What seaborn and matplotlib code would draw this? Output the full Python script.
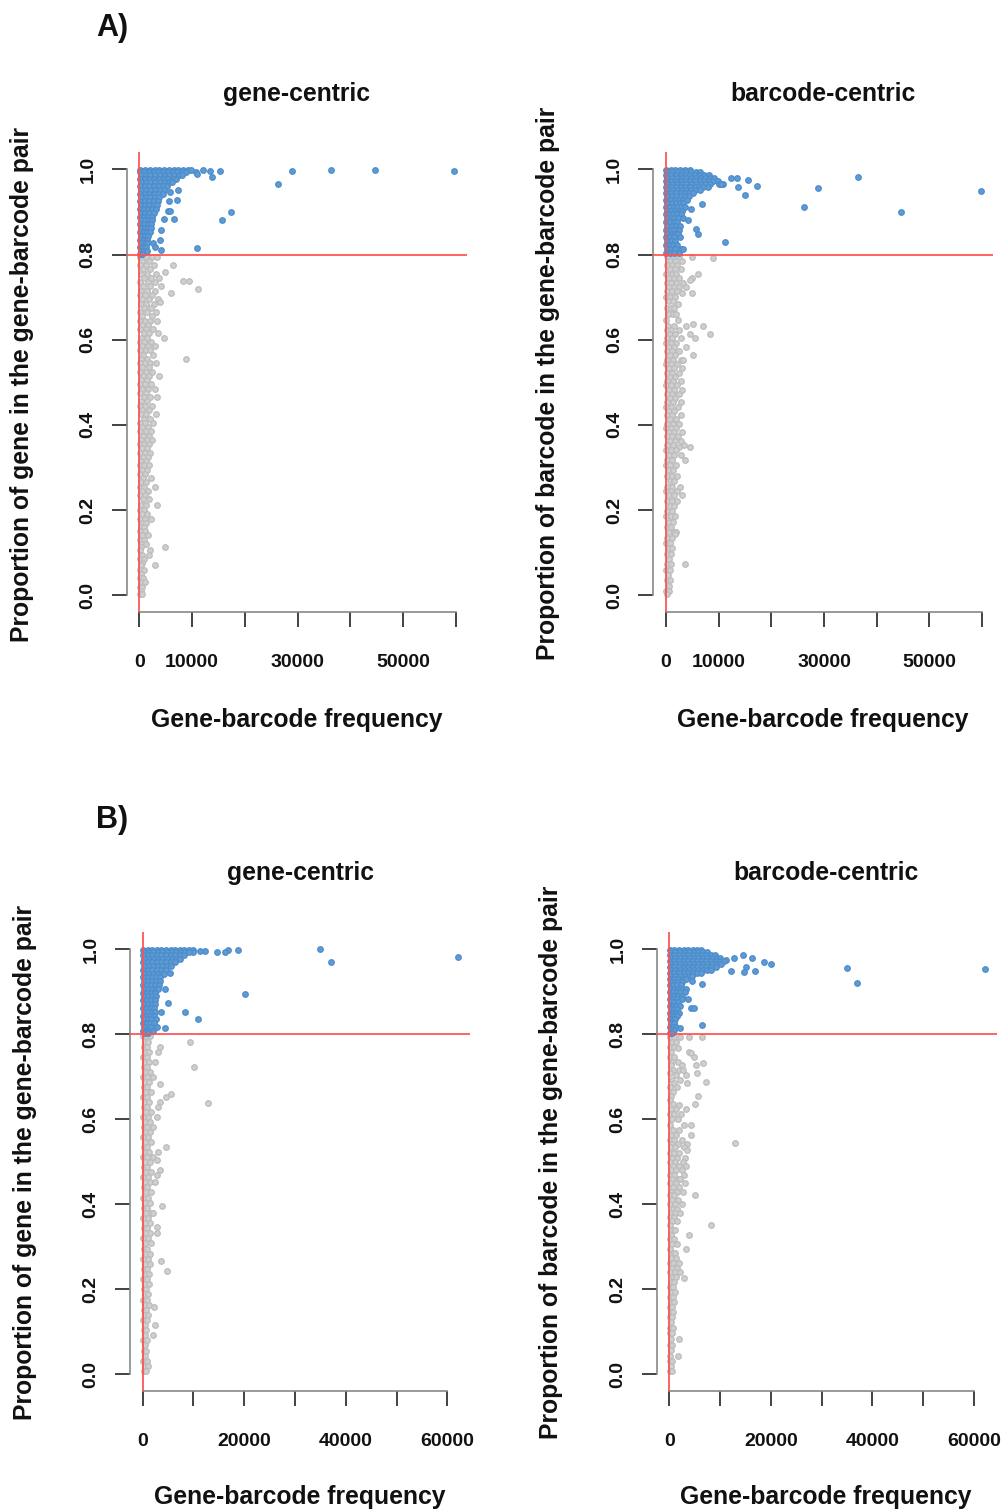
import numpy as np
import pandas as pd
import matplotlib
matplotlib.use("Agg")
import matplotlib.pyplot as plt
import seaborn as sns

# ---------------------------------------------------------------- data
# each row: (proportion, [gene-barcode frequencies at that proportion])
A_GENE_BLUE = [
    (0.999, [200, 1100, 2000, 2900, 3800, 4700, 5600, 6500, 7400, 8300, 9200, 9800, 12100]),
    (0.998, [36400, 44600]),
    (0.996, [13400, 28900]),
    (0.995, [15300, 59700]),
    (0.994, [10700]),
    (0.993, [100, 900, 1800, 2700, 3600, 4500, 5400, 6300, 7200, 8100, 8900]),
    (0.990, [11000]),
    (0.986, [300, 1200, 2100, 3000, 3900, 4800, 5700, 6600, 7500, 8000]),
    (0.982, [13700]),
    (0.978, [100, 1000, 1900, 2800, 3700, 4600, 5500, 6300, 7000]),
    (0.970, [300, 1200, 2100, 3000, 3900, 4800, 5600, 6200]),
    (0.965, [26200]),
    (0.961, [100, 1000, 1900, 2800, 3700, 4500, 5300]),
    (0.952, [300, 1200, 2100, 3000, 3900, 4700, 7400]),
    (0.947, [5800]),
    (0.943, [100, 1000, 1900, 2800, 3600, 4400]),
    (0.934, [300, 1200, 2100, 2900, 3700]),
    (0.929, [7100]),
    (0.925, [100, 1000, 1900, 2700, 3500, 5600]),
    (0.916, [300, 1100, 1900, 2700, 3300]),
    (0.907, [100, 900, 1700, 2500, 3100]),
    (0.903, [5500, 5900]),
    (0.900, [17300]),
    (0.898, [300, 1100, 1900, 2700]),
    (0.889, [100, 900, 1700, 2500]),
    (0.883, [6600, 4600]),
    (0.881, [15700]),
    (0.880, [300, 1100, 1800, 2400]),
    (0.871, [100, 900, 1600, 2300]),
    (0.862, [300, 1000, 1700, 2200]),
    (0.857, [4200]),
    (0.853, [100, 800, 1500, 2100]),
    (0.844, [300, 1000, 1700]),
    (0.835, [100, 800, 1500, 4000]),
    (0.826, [300, 1000, 1500, 2600]),
    (0.817, [100, 700, 1300, 3000]),
    (0.816, [10900]),
    (0.810, [4100]),
    (0.808, [300, 900, 1400]),
    (0.802, [100, 600]),
]

A_GENE_GRAY = [
    (0.795, [200, 1200, 2400, 3300]), (0.785, [500, 1800]),
    (0.775, [100, 1300, 2700, 6400]), (0.765, [700, 2000]), (0.759, [4900]),
    (0.755, [300, 1500, 3100]), (0.745, [900, 2300, 3800]), (0.738, [8300, 9500]),
    (0.735, [200, 1600, 2900]), (0.725, [700, 2100, 4200]), (0.718, [11200]),
    (0.715, [400, 1400, 3000]), (0.710, [6100]), (0.705, [100, 1000, 2500]),
    (0.695, [600, 1900, 3500]), (0.689, [4000]), (0.685, [300, 1300, 2800]),
    (0.675, [800, 2200]), (0.665, [200, 1500, 3100]), (0.655, [600, 2400]),
    (0.645, [100, 1100, 2000, 3300]), (0.635, [500, 1700]), (0.625, [200, 1300, 2600]),
    (0.615, [800, 1900, 3600]), (0.605, [300, 1400, 4700]), (0.595, [100, 900, 2300]),
    (0.585, [600, 1700, 3000]), (0.575, [200, 1200, 2100]), (0.565, [700, 2600]),
    (0.555, [300, 1500, 8800]), (0.545, [100, 1000, 2000, 3200]), (0.535, [500, 1800]),
    (0.525, [200, 1200, 2500]), (0.514, [700, 1900, 3800]), (0.505, [300, 1400]),
    (0.495, [100, 1000, 2200]), (0.485, [600, 1700, 2900]), (0.475, [200, 1300]),
    (0.465, [800, 2100, 3300]), (0.455, [400, 1500]), (0.445, [100, 1000, 2400]),
    (0.435, [600, 1800]), (0.425, [300, 1300, 3100]), (0.415, [800, 2000]),
    (0.405, [100, 1100, 2600]), (0.395, [500, 1600]), (0.385, [200, 1200, 2200]),
    (0.375, [700, 1800]), (0.365, [300, 1400, 2500]), (0.355, [100, 900, 1900]),
    (0.345, [500, 1500]), (0.335, [200, 1100, 2100]), (0.325, [700, 1700]),
    (0.315, [300, 1300]), (0.305, [100, 900, 1900]), (0.295, [500, 1500]),
    (0.285, [200, 1100]), (0.276, [700, 2300]), (0.265, [300, 1300]),
    (0.254, [100, 900, 3000]), (0.245, [500, 1600]), (0.235, [200, 1100]),
    (0.225, [700, 1800]), (0.211, [300, 1200, 3400]), (0.200, [100, 800]),
    (0.190, [500, 1500]), (0.180, [200, 1000, 2300]), (0.170, [600, 1300]),
    (0.160, [300, 900]), (0.150, [100, 1100]), (0.141, [500, 1700]),
    (0.130, [200, 900]), (0.120, [600, 1200]), (0.113, [300, 4900]),
    (0.106, [100, 2000]), (0.095, [500, 1900]), (0.085, [200, 900]),
    (0.075, [600]), (0.070, [300, 3000]), (0.060, [100, 800]), (0.050, [400]),
    (0.040, [200, 700]), (0.030, [500, 1000]), (0.020, [100, 600]),
    (0.010, [300]), (0.003, [100, 500]),
]

A_BARCODE_BLUE = [
    (0.999, [100, 900, 1800, 2700, 3600, 4500]),
    (0.993, [300, 1200, 2100, 3000, 3900, 4800, 5700, 6400]),
    (0.986, [100, 1000, 1900, 2800, 3700, 4600, 5500, 6400, 7300, 8200]),
    (0.983, [36400]),
    (0.980, [12300]),
    (0.979, [300, 1200, 2100, 3000, 3900, 4800, 5700, 6600, 7500, 8400, 9200, 13400]),
    (0.976, [15600]),
    (0.972, [100, 1000, 1900, 2800, 3700, 4600, 5500, 6400, 7300, 8100, 9000, 9800]),
    (0.965, [300, 1200, 2100, 3000, 3900, 4800, 5700, 6600, 7400, 8300, 10000, 10800, 10400]),
    (0.962, [17300]),
    (0.958, [100, 1000, 1900, 2800, 3700, 4600, 5500, 6300, 7100, 8000, 13700]),
    (0.956, [28800]),
    (0.951, [300, 1200, 2100, 3000, 3900, 4800, 5600, 6400]),
    (0.949, [59700]),
    (0.944, [100, 1000, 1900, 2800, 3600, 4400, 5200]),
    (0.940, [15000]),
    (0.937, [300, 1200, 2000, 2800, 3600, 4400]),
    (0.929, [100, 900, 1700, 2500, 3300, 4100]),
    (0.921, [300, 1100, 1900, 2600, 3300]),
    (0.918, [6900]),
    (0.912, [100, 800, 1500, 2200, 2900, 3600, 26200]),
    (0.906, [4800]),
    (0.903, [300, 1000, 1700, 2400, 3100]),
    (0.900, [44600]),
    (0.894, [100, 700, 1400, 2100, 2800]),
    (0.885, [300, 1000, 1600, 2300, 3300]),
    (0.881, [4200]),
    (0.876, [100, 800, 1500, 2200]),
    (0.867, [300, 1200, 1900, 2600]),
    (0.861, [5800]),
    (0.858, [100, 900, 1600, 2500]),
    (0.849, [300, 1100, 1800, 2300]),
    (0.848, [6100]),
    (0.840, [100, 800, 1500, 2600]),
    (0.831, [300, 1000, 1700]),
    (0.830, [11200]),
    (0.822, [100, 700, 1400, 2200]),
    (0.813, [300, 1000, 1700, 2800, 3300]),
    (0.804, [100, 800, 1500, 2400]),
]

A_BARCODE_GRAY = [
    (0.797, [200, 1300, 2400]), (0.794, [5000]), (0.791, [9000]),
    (0.785, [700, 1800, 3000]), (0.775, [300, 1200, 2200]), (0.765, [800, 1700, 2800]),
    (0.754, [100, 1100, 2000, 6000]), (0.744, [500, 1500, 2500, 4900]), (0.740, [4500]),
    (0.734, [200, 1000, 1900, 3200]), (0.724, [600, 1500, 2400, 3900]),
    (0.714, [300, 1100, 2100]), (0.710, [3000, 4900]), (0.700, [100, 800, 1700]),
    (0.690, [500, 1400]), (0.683, [2300]), (0.675, [200, 1000, 1600]),
    (0.660, [600, 1300, 2000]), (0.646, [100, 2300]), (0.638, [5200]),
    (0.632, [400, 1500, 3900, 7100]), (0.622, [200, 1000, 2400]),
    (0.613, [700, 1700, 4500, 8300]), (0.603, [300, 1200, 2800, 5500]),
    (0.593, [100, 900, 2000]), (0.583, [500, 1500, 3900]), (0.573, [200, 1100, 2400]),
    (0.563, [700, 1700, 5200]), (0.553, [300, 1300, 2900, 3300]), (0.543, [100, 900, 2100]),
    (0.533, [500, 1600, 3000]), (0.523, [200, 1100, 2400]), (0.513, [700, 1800]),
    (0.503, [300, 1300, 2800]), (0.493, [100, 900, 2200]), (0.483, [500, 1600, 3100]),
    (0.473, [200, 1200, 2500]), (0.463, [700, 1800]), (0.453, [300, 1400, 2900]),
    (0.443, [100, 1000, 2300]), (0.433, [500, 1600]), (0.423, [200, 1200, 2800]),
    (0.413, [700, 1900]), (0.403, [300, 1300, 2500]), (0.393, [100, 900, 2000]),
    (0.383, [500, 1500, 3000]), (0.373, [200, 1100, 2300]), (0.363, [700, 1800, 2900]),
    (0.353, [300, 1400, 3500]), (0.347, [2500, 4500]), (0.340, [100, 1000, 2000]),
    (0.330, [600, 1600, 2800]), (0.317, [300, 1200, 3600]), (0.305, [100, 800, 1900]),
    (0.293, [500, 1400]), (0.280, [200, 1100, 2200]), (0.268, [700, 1600]),
    (0.255, [300, 1200, 2600]), (0.245, [100, 900, 2100]), (0.235, [500, 1500, 3000]),
    (0.222, [200, 1100, 2200]), (0.210, [700, 1600]), (0.197, [300, 1200]),
    (0.185, [100, 900, 1800]), (0.172, [500, 1400]), (0.160, [200, 1000]),
    (0.148, [600, 1500, 2000]), (0.143, [1700]), (0.135, [300, 1100]),
    (0.122, [100, 800]), (0.110, [500, 1200]), (0.097, [200, 900]), (0.085, [600]),
    (0.073, [300, 1000, 3600]), (0.060, [100, 700]), (0.047, [400]),
    (0.035, [200, 800]), (0.022, [500]), (0.010, [100, 600]), (0.003, [300]),
]

B_GENE_BLUE = [
    (0.999, [100, 1000, 1900, 2800, 3700, 4600, 5500, 6400, 7300, 8200, 9100, 9900]),
    (1.000, [35000]),
    (0.998, [16800, 18800]),
    (0.997, [12300]),
    (0.996, [11300]),
    (0.994, [10000, 14600, 16200]),
    (0.993, [300, 1200, 2100, 3000, 3900, 4800, 5700, 6600, 7500, 8400, 9200]),
    (0.986, [100, 1000, 1900, 2800, 3700, 4600, 5500, 6400, 7300, 8100]),
    (0.983, [62000]),
    (0.978, [300, 1200, 2100, 3000, 3900, 4800, 5700, 6600, 7300]),
    (0.970, [100, 1000, 1900, 2800, 3700, 4600, 5500, 6300, 37000]),
    (0.961, [300, 1200, 2100, 3000, 3900, 4800, 5500]),
    (0.952, [100, 1000, 1900, 2800, 3700, 4600]),
    (0.944, [5400]),
    (0.943, [300, 1200, 2100, 3000, 3800, 4300]),
    (0.934, [100, 1000, 1900, 2700, 3500]),
    (0.925, [300, 1100, 1900, 2700, 3400]),
    (0.916, [100, 900, 1700, 2500, 3200]),
    (0.907, [300, 1100, 1900, 2700, 3000]),
    (0.906, [4400]),
    (0.898, [100, 900, 1700, 2500]),
    (0.895, [20100]),
    (0.889, [300, 1100, 1900, 2700]),
    (0.880, [100, 900, 1700, 2400]),
    (0.873, [5000]),
    (0.871, [300, 1100, 1900, 2500]),
    (0.862, [100, 900, 1700, 2300]),
    (0.853, [300, 1100, 1800, 2500, 3700, 8300]),
    (0.844, [100, 800, 1500, 2200]),
    (0.835, [300, 1000, 1700, 2600, 10900]),
    (0.826, [100, 800, 1500, 2200]),
    (0.817, [300, 1000, 1600, 2800]),
    (0.814, [4400]),
    (0.808, [100, 700, 1300, 2000]),
    (0.802, [400, 1000]),
]

B_GENE_GRAY = [
    (0.795, [100, 700, 1400]), (0.783, [400, 1100, 9400]), (0.771, [200, 900, 3400]),
    (0.759, [600, 1300, 3100]), (0.747, [100, 800]), (0.736, [400, 1200, 2400]),
    (0.724, [200, 900, 10200]), (0.712, [600, 1500]), (0.700, [100, 800, 2100]),
    (0.688, [400, 1200]), (0.682, [3400]), (0.676, [200, 900]), (0.664, [600, 1600]),
    (0.659, [5600]), (0.652, [100, 800, 4700]), (0.640, [400, 1300, 3400]),
    (0.638, [12900]), (0.630, [200, 900, 3100]), (0.618, [600, 1700]),
    (0.606, [100, 1000, 2900]), (0.594, [400, 1400]), (0.582, [200, 800, 2000]),
    (0.570, [600, 1500]), (0.558, [100, 1000]), (0.546, [400, 1700]),
    (0.536, [200, 800, 4600]), (0.524, [600, 1300, 3100]), (0.512, [100, 900, 2000]),
    (0.504, [2800]), (0.500, [400, 1500]), (0.488, [200, 800]), (0.481, [3400]),
    (0.476, [600, 1600]), (0.469, [2800]), (0.464, [100, 1000]),
    (0.452, [400, 1500, 2400]), (0.440, [200, 900]), (0.428, [600, 1700]),
    (0.416, [100, 1000]), (0.404, [400, 1400]), (0.396, [3900]), (0.392, [200, 800]),
    (0.380, [600, 1600, 2100]), (0.368, [100, 1000]), (0.356, [400, 1400]),
    (0.347, [2800]), (0.344, [200, 900]), (0.332, [600, 1500, 2800]),
    (0.320, [100, 1000]), (0.308, [400, 1600]), (0.296, [200, 900]),
    (0.284, [600, 1500]), (0.272, [100, 1000]), (0.267, [3700]), (0.260, [400, 1500]),
    (0.248, [200, 800]), (0.244, [4900]), (0.236, [600, 1300]), (0.224, [100, 900]),
    (0.212, [400, 1200]), (0.200, [200, 700]), (0.188, [500, 1100]),
    (0.176, [100, 800]), (0.164, [400, 1300]), (0.159, [2200]), (0.152, [200, 700]),
    (0.140, [500, 1000]), (0.128, [100, 800]), (0.116, [400, 2400]),
    (0.104, [200, 700]), (0.092, [500, 2100]), (0.080, [100, 800]), (0.068, [400]),
    (0.056, [200, 700]), (0.044, [500]), (0.032, [100, 800]), (0.020, [400, 1000]),
    (0.008, [200, 600]),
]

B_BARCODE_BLUE = [
    (0.999, [100, 1000, 1900, 2800, 3700, 4600, 5500, 6200]),
    (0.993, [300, 1200, 2100, 3000, 3900, 4800, 5700, 6600, 7400]),
    (0.987, [14600]),
    (0.986, [100, 1000, 1900, 2800, 3700, 4600, 5500, 6400, 7300, 8200, 9000]),
    (0.979, [300, 1200, 2100, 3000, 3900, 4800, 5700, 6600, 7500, 8400, 9300, 10000, 12700, 16300]),
    (0.975, [11100]),
    (0.972, [100, 1000, 1900, 2800, 3700, 4600, 5500, 6400, 7300, 8200, 9100, 10000, 10800]),
    (0.970, [18600]),
    (0.965, [300, 1200, 2100, 3000, 3900, 4800, 5700, 6600, 7500, 8400, 9300, 10200, 20100]),
    (0.959, [15000]),
    (0.958, [100, 1000, 1900, 2800, 3700, 4600, 5500, 6400, 7300, 8200, 9100]),
    (0.957, [35000]),
    (0.954, [62070]),
    (0.951, [300, 1200, 2100, 3000, 3900, 4800, 5700, 6600, 7500, 8300]),
    (0.949, [12100, 16900]),
    (0.947, [14700]),
    (0.944, [100, 1000, 1900, 2800, 3700, 4600, 5400, 6200]),
    (0.937, [300, 1200, 2100, 3000, 3800, 4500]),
    (0.930, [100, 1000, 1800, 2600, 3300]),
    (0.925, [4500]),
    (0.923, [300, 1100, 1800, 2500]),
    (0.920, [37000]),
    (0.918, [6400]),
    (0.915, [100, 800, 1500, 2300]),
    (0.907, [300, 1000, 1700, 2500, 3200]),
    (0.899, [100, 800, 1500, 2200, 3000]),
    (0.891, [300, 1000, 1700, 2500]),
    (0.883, [100, 800, 1500, 2400, 3700]),
    (0.875, [300, 1000, 1700]),
    (0.867, [100, 700, 1400, 2100]),
    (0.861, [4200, 4800]),
    (0.859, [300, 1000, 1600]),
    (0.851, [100, 700, 1300, 2000]),
    (0.843, [300, 900, 1500]),
    (0.835, [100, 700, 1200]),
    (0.827, [300, 900]),
    (0.822, [6400]),
    (0.818, [100, 700, 1300]),
    (0.814, [2200]),
    (0.810, [300, 900]),
    (0.803, [100, 600]),
]

B_BARCODE_GRAY = [
    (0.794, [200, 1000, 2200, 3900, 6500]), (0.782, [600, 1400]), (0.770, [100, 900]),
    (0.767, [1700]), (0.759, [400, 3900]), (0.755, [4200]), (0.746, [200, 1000, 4800]),
    (0.734, [600, 1700]), (0.732, [6700]), (0.728, [300, 2400, 5200]),
    (0.716, [800, 1900, 2600]), (0.708, [100, 5500]), (0.704, [1300, 3200]),
    (0.692, [500, 2200]), (0.687, [7300]), (0.685, [1000, 3500]), (0.675, [200, 1600]),
    (0.664, [700]), (0.655, [300, 5600]), (0.645, [100]), (0.636, [800, 5000]),
    (0.634, [1900]), (0.624, [400, 1400, 3200]), (0.612, [100, 900, 2300]),
    (0.600, [500, 1700]), (0.587, [200, 2900, 4200]), (0.575, [800, 1900]),
    (0.563, [300, 1400, 4200]), (0.551, [100, 900, 2500]), (0.545, [12900]),
    (0.543, [600, 1800, 3500]), (0.535, [300, 1200, 2800]), (0.528, [3400]),
    (0.520, [100, 900, 2000]), (0.510, [500, 1600, 3100]), (0.500, [200, 1200, 2600]),
    (0.490, [700, 1900, 3300]), (0.480, [300, 1400, 2400]), (0.470, [100, 1000, 2900]),
    (0.460, [600, 1700, 2200]), (0.450, [200, 1300, 3000]), (0.440, [800, 2000]),
    (0.430, [400, 1500, 2600]), (0.421, [100, 1000, 5000]), (0.410, [600, 1800]),
    (0.400, [200, 1200, 2400]), (0.390, [700, 1600]), (0.380, [300, 1100, 2200]),
    (0.370, [100, 900]), (0.360, [500, 1500]), (0.351, [200, 8300]),
    (0.340, [700, 1200]), (0.328, [300, 3900]), (0.318, [100, 900]),
    (0.306, [500, 1500]), (0.296, [200, 3200]), (0.285, [700, 1100]),
    (0.274, [300, 1400]), (0.262, [100, 800, 2000]), (0.250, [500, 1600]),
    (0.240, [200, 1100, 2100]), (0.230, [700, 1400]), (0.226, [2800]),
    (0.218, [300, 1000]), (0.206, [100, 700]), (0.194, [500, 1200]),
    (0.182, [200, 800]), (0.170, [600, 1000]), (0.158, [100, 500]),
    (0.146, [300, 800]), (0.134, [100, 600]), (0.122, [400]), (0.110, [200, 700]),
    (0.098, [100, 500]), (0.082, [300, 1900]), (0.070, [100, 600]), (0.058, [400]),
    (0.044, [200, 1800]), (0.032, [100, 600]), (0.020, [300]), (0.008, [100, 500]),
]

X_TICKS = [0, 10000, 20000, 30000, 40000, 50000, 60000]
A_X_TICKLABELS = ["0", "10000", "", "30000", "", "50000", ""]
B_X_TICKLABELS = ["0", "", "20000", "", "40000", "", "60000"]
Y_TICKS = [0.0, 0.2, 0.4, 0.6, 0.8, 1.0]
Y_TICKLABELS = ["0.0", "0.2", "0.4", "0.6", "0.8", "1.0"]
THRESHOLD = 0.8

TITLES = ["gene-centric", "barcode-centric"]
XLABEL = "Gene-barcode frequency"
YLABELS = ["Proportion of gene in the gene-barcode pair",
           "Proportion of barcode in the gene-barcode pair"]


def expand(rows):
    xs, ys = [], []
    for y, xl in rows:
        for x in xl:
            xs.append(x)
            ys.append(y)
    return pd.DataFrame({"freq": xs, "prop": ys})


# ---------------------------------------------------------------- style
sns.set_style("ticks")
plt.rcParams["font.family"] = ["Liberation Sans", "DejaVu Sans"]
plt.rcParams["text.color"] = "#111111"
plt.rcParams["axes.labelcolor"] = "#111111"

W, H = 1003, 1512
fig = plt.figure(figsize=(W / 100, H / 100), dpi=100)

BLUE = "#4b8dcc"
BLUE_FACE = "#5f9ad3"
GRAY = "#bcbcbc"
GRAY_FACE = "#cfcfcf"
RED = "#ff5252"


def px_rect(left, top, right, bottom):
    return [left / W, 1 - bottom / H, (right - left) / W, (bottom - top) / H]


panels = [
    dict(blue=A_GENE_BLUE, gray=A_GENE_GRAY, rect=px_rect(126.7, 152.3, 467.0, 612.3),
         title=TITLES[0], ylabel=YLABELS[0], xticklabels=A_X_TICKLABELS,
         title_xy=(297, 94), xlabel_xy=(297, 720), ylabel_xy=(22, 384)),
    dict(blue=A_BARCODE_BLUE, gray=A_BARCODE_GRAY, rect=px_rect(653.3, 152.3, 993.1, 612.3),
         title=TITLES[1], ylabel=YLABELS[1], xticklabels=A_X_TICKLABELS,
         title_xy=(823, 94), xlabel_xy=(823, 720), ylabel_xy=(548, 383)),
    dict(blue=B_GENE_BLUE, gray=B_GENE_GRAY, rect=px_rect(130.0, 932.3, 470.2, 1391.3),
         title=TITLES[0], ylabel=YLABELS[0], xticklabels=B_X_TICKLABELS,
         title_xy=(300, 873), xlabel_xy=(300, 1497), ylabel_xy=(25, 1163)),
    dict(blue=B_BARCODE_BLUE, gray=B_BARCODE_GRAY, rect=px_rect(656.7, 932.3, 997.2, 1391.3),
         title=TITLES[1], ylabel=YLABELS[1], xticklabels=B_X_TICKLABELS,
         title_xy=(826, 873), xlabel_xy=(826, 1497), ylabel_xy=(551, 1162)),
]

for p in panels:
    ax = fig.add_axes(p["rect"])
    dgray = expand(p["gray"])
    dblue = expand(p["blue"])
    sns.scatterplot(data=dgray, x="freq", y="prop", ax=ax, color=GRAY,
                    facecolor=GRAY_FACE, edgecolor=GRAY, s=16, linewidth=0.9,
                    legend=False, zorder=2)
    sns.scatterplot(data=dblue, x="freq", y="prop", ax=ax, color=BLUE,
                    facecolor=BLUE_FACE, edgecolor=BLUE, s=16, linewidth=0.9,
                    legend=False, zorder=3)
    xmax = max(dgray["freq"].max(), dblue["freq"].max())
    ax.set_xlim(-0.04 * xmax, 1.04 * xmax)
    ax.set_ylim(-0.04, 1.04)
    ax.axhline(THRESHOLD, color=RED, lw=1.4, alpha=0.9, zorder=5)
    ax.axvline(0, color=RED, lw=1.4, alpha=0.9, zorder=5)

    for s in ("top", "right"):
        ax.spines[s].set_visible(False)
    ax.spines["left"].set_bounds(0, 1)
    ax.spines["bottom"].set_bounds(X_TICKS[0], X_TICKS[-1])
    for s in ("left", "bottom"):
        ax.spines[s].set_color("#888888")
        ax.spines[s].set_linewidth(1.2)

    ax.set_xticks(X_TICKS)
    ax.set_xticklabels(p["xticklabels"], fontsize=14, fontweight="bold")
    ax.set_yticks(Y_TICKS)
    ax.set_yticklabels(Y_TICKLABELS, fontsize=14, fontweight="bold",
                       rotation=90, va="center")
    ax.tick_params(axis="both", which="major", bottom=True, left=True,
                   top=False, right=False, direction="out",
                   length=10.8, width=1.2, color="#222222",
                   labelcolor="#111111")
    ax.tick_params(axis="x", pad=19)
    ax.tick_params(axis="y", pad=11)

    ax.set_xlabel(XLABEL, fontsize=17.8, fontweight="bold", va="center")
    ax.xaxis.set_label_coords(p["xlabel_xy"][0] / W, 1 - p["xlabel_xy"][1] / H,
                              transform=fig.transFigure)
    ax.set_ylabel(p["ylabel"], fontsize=17.8, fontweight="bold", va="center")
    ax.yaxis.set_label_coords(p["ylabel_xy"][0] / W, 1 - p["ylabel_xy"][1] / H,
                              transform=fig.transFigure)
    fig.text(p["title_xy"][0] / W, 1 - p["title_xy"][1] / H, p["title"],
             fontsize=17.8, fontweight="bold", ha="center", va="center")

fig.text(112 / W, 1 - 28 / H, "A)", fontsize=22, fontweight="bold",
         ha="center", va="center")
fig.text(112 / W, 1 - 820 / H, "B)", fontsize=22, fontweight="bold",
         ha="center", va="center")

fig.savefig("out.png", dpi=100)
